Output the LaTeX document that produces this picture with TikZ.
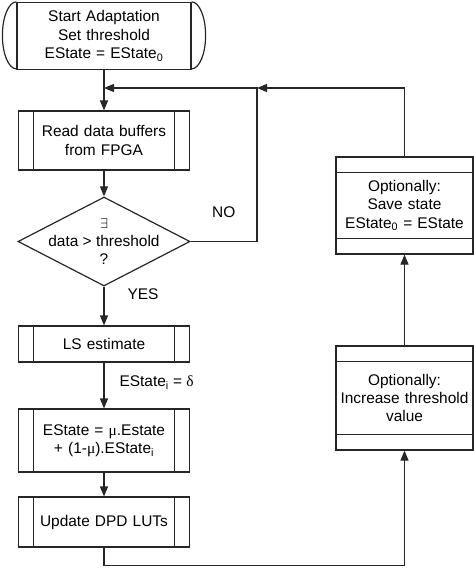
\documentclass[tikz,border=0pt]{standalone}
\usepackage{fontspec}
\setmainfont{Liberation Sans}
\newfontfamily\grk{Liberation Serif}
\usetikzlibrary{arrows.meta}
\usetikzlibrary{positioning,shapes.geometric}
\tikzstyle{term}=[rectangle, draw, text width=160bp, text centered,
		minimum width=174bp, minimum height=67bp, inner sep=2bp]
\tikzstyle{proc}=[rectangle, draw, text width=135bp, text centered,
		minimum width=171bp, inner sep=2bp]
\tikzstyle{decision}=[diamond, draw, aspect=1.93, align=center,
		minimum width=172bp, minimum height=89bp, inner xsep=-25bp, inner ysep=0pt]
\tikzstyle{opt}=[rectangle, draw, text width=131bp, text centered,
		minimum width=137bp, inner sep=2bp]
\tikzstyle{lbl}=[inner sep=1bp]
\begin{document}
\begin{tikzpicture}[x=1bp,y=1bp,line width=1.2bp,draw=black!85,
    >={Triangle[length=10bp,width=8bp]},
    every node/.style={font=\fontsize{15.5}{18.5}\selectfont}]
    \useasboundingbox (0,0) rectangle (474,-568);

    \node (Start) at (104,-36) [term]{Start Adaptation\\ Set threshold\\
      EState = EState\textsubscript{0}};
    \draw (Start.north west) arc[start angle=90,end angle=270,x radius=14bp,y radius=33.5bp];
    \draw (Start.north east) arc[start angle=90,end angle=-90,x radius=14bp,y radius=33.5bp];

    \node (Read) [proc, minimum height=59bp, below=40.3bp of Start]{Read data buffers\\ from FPGA};
    \node (Check) [decision, below=25.8bp of Read]{$\exists$\\ data > threshold\\ ?};
    \node (LS) [proc, minimum height=36bp, below=38.8bp of Check]{LS estimate};
    \node (Upd) [proc, minimum height=63bp, below=45.8bp of LS]{EState = {\grk μ}.Estate\\
      + (1-{\grk μ}).EState\textsubscript{i}};
    \node (LUT) [proc, minimum height=50bp, below=23.8bp of Upd]{Update DPD LUTs};

    \node (Save) at (404.5,-205.5) [opt, minimum height=97bp]{Optionally:\\ Save state\\
      EState\textsubscript{0} = EState};
    \node (Incr) [opt, minimum height=104bp, below=90.8bp of Save]{Optionally:\\
      Increase threshold\\ value};

    \foreach \n in {Read,LS,Upd,LUT} {
      \draw ([xshift=16bp]\n.north west) -- ([xshift=16bp]\n.south west);
      \draw ([xshift=-16bp]\n.north east) -- ([xshift=-16bp]\n.south east);
    }
    \foreach \n in {Save,Incr} {
      \draw ([yshift=-16bp]\n.north west) -- ([yshift=-16bp]\n.north east);
      \draw ([yshift=16bp]\n.south west) -- ([yshift=16bp]\n.south east);
    }

    \coordinate (Back) at (257,-88);
    \coordinate (Merge) at (Start.south |- Back);
    \coordinate (Low) at (Incr.south |- 0,-565.5);

    \draw [->] (Start) -- (Read);
    \draw [->] (Read) -- (Check);
    \draw [->] (Check) -- node[lbl, pos=0.2, right=22bp]{YES} (LS);
    \draw [->] (LS) -- node[lbl, pos=0.43, right=14bp]{EState\textsubscript{i} = {\grk δ}} (Upd);
    \draw [->] (Upd) -- (LUT);
    \draw [->] (Check.east) -| node[lbl, pos=0.25, above=22bp]{NO} (Back) -- (Merge);
    \draw [->] (LUT.south) |- (Low) -- (Incr.south);
    \draw [->] (Incr) -- (Save);
    \draw [->] (Save.north) |- (Back);

  \end{tikzpicture}
\end{document}
